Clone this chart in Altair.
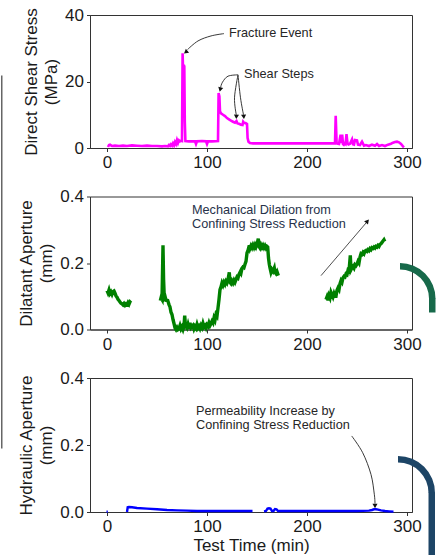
import altair as alt
import pandas as pd

# ------------------------------------------------------------------ data
# Direct shear stress (MPa) vs test time (min)
shear_time = [1, 2, 3, 4, 5, 8, 12, 16, 20, 25, 30, 35, 40, 45, 50, 55, 58, 61, 62, 63,
              64, 65, 66, 67, 68, 69, 70, 71, 72, 73, 74, 75, 75.6, 76.3, 76.8, 77.3, 77.8, 78.4, 82, 88,
              89, 90, 95, 99, 100, 101, 105, 111, 111.6, 112.4, 113, 114, 116, 118, 120, 122, 124, 126, 128, 129.5,
              130.5, 132, 134, 135.5, 136.2, 137, 138.5, 140, 140.6, 141.5, 143, 146, 160, 180, 200, 215, 228, 228.7, 229.6, 230.3,
              232, 233.6, 234.4, 235.2, 236, 236.8, 237.6, 238.5, 239.5, 240.5, 241.5, 243, 245, 246, 247, 248, 250, 251, 253, 255,
              257, 259, 262, 265, 268, 270, 272, 275, 278, 281, 284, 286, 288, 290, 292, 294, 296, 297]
shear_mpa = [0.3, 0.9, 1.0, 0.8, 0.6, 0.7, 0.6, 0.7, 0.6, 0.8, 0.7, 0.6, 0.7, 0.6, 0.6, 0.5, 0.6, 0.5, 0.9, 0.6,
             1.1, 0.7, 1.4, 0.8, 1.8, 1.2, 2.4, 1.5, 2.3, 2.0, 2.2, 2.1, 28.5, 21.0, 25.0, 24.5, 8.0, 2.1, 2.0, 2.0,
             1.2, 2.0, 2.1, 2.0, 1.2, 2.0, 2.0, 2.1, 16.5, 15.5, 11.0, 10.4, 10.0, 9.6, 9.0, 8.6, 8.2, 7.9, 7.6, 8.1,
             7.4, 7.3, 7.0, 6.9, 7.9, 7.6, 7.5, 7.2, 3.0, 1.9, 1.5, 1.4, 1.4, 1.4, 1.4, 1.4, 1.4, 9.7, 1.6, 1.3,
             1.2, 4.0, 1.5, 4.0, 1.2, 1.0, 1.4, 1.2, 4.2, 1.4, 1.1, 1.3, 2.6, 1.1, 1.0, 2.4, 2.3, 1.0, 0.9, 1.9,
             0.7, 0.9, 0.6, 1.0, 0.7, 1.2, 0.6, 0.9, 0.6, 1.0, 1.3, 1.6, 1.8, 1.9, 1.7, 1.2, 0.5, 0.2]

# Dilatant aperture (mm); the record has gaps (three segments)
dil_time = [0, 1, 2, 3, 4, 5, 6, 7, 8, 9, 10, 11, 12, 13, 14, 15, 16, 17, 18, 19, 20, 21, 22, 23, 24,
            53.3, 54, 55, 56, 56.6, 57.3, 58, 59, 60.7, 62, 63, 64, 65, 66, 67, 68, 69, 70, 71, 72, 73, 74, 75, 76, 77,
            77.7, 78.5, 80, 81, 82, 83, 84, 85, 86, 87, 88, 89, 90, 91, 92, 93, 94, 95, 96, 97, 98, 99, 100, 101, 102,
            103, 104, 105, 106, 107, 108, 109, 110, 111, 112, 113, 114, 115, 116, 117, 118, 119, 120, 121, 122.3, 123, 124, 125, 126, 127,
            128, 129, 130, 131, 132, 133.3, 134, 135, 136, 137, 138, 139, 140, 141, 142.3, 143, 144, 145, 146, 147, 148, 149, 150, 151.3,
            152, 153, 154, 155, 156, 157, 158, 159, 160, 160.7, 161.5, 162.3, 163, 164, 165, 166, 167.3, 168, 169, 170, 171.3,
            219, 220, 221, 222, 223, 224, 225, 226, 227, 228, 229, 230, 231, 232, 233, 234, 235, 236, 237, 238, 239, 240, 241, 242, 243.3,
            244, 245, 246, 247, 248, 249, 250, 251, 252, 253, 254, 255, 256, 257, 258, 259, 260, 261, 262, 263, 264, 265, 266, 267, 268,
            269, 270, 271, 272, 273, 274, 275, 276, 277, 277.8]
dil_mm = [0.117, 0.110, 0.119, 0.108, 0.113, 0.106, 0.114, 0.116, 0.109, 0.101, 0.097, 0.091, 0.087, 0.083, 0.079, 0.077, 0.074, 0.078, 0.073, 0.077, 0.075, 0.081, 0.076, 0.083, 0.080,
          0.087, 0.095, 0.090, 0.253, 0.150, 0.096, 0.100, 0.088, 0.087, 0.075, 0.068, 0.052, 0.045, 0.030, 0.018, 0.005, 0.000, 0.006, 0.000, 0.003, 0.012, 0.002, 0.008, 0.000, 0.010,
          0.042, 0.010, 0.004, 0.015, 0.003, 0.020, 0.006, 0.010, 0.013, 0.002, 0.009, 0.004, 0.015, 0.005, 0.010, 0.003, 0.012, 0.006, 0.018, 0.008, 0.012, 0.005, 0.014, 0.010, 0.020,
          0.012, 0.018, 0.025, 0.020, 0.035, 0.028, 0.045, 0.040, 0.065, 0.090, 0.120, 0.128, 0.140, 0.133, 0.142, 0.136, 0.145, 0.140, 0.150, 0.172, 0.142, 0.138, 0.146, 0.140, 0.148,
          0.142, 0.150, 0.158, 0.155, 0.166, 0.174, 0.170, 0.184, 0.188, 0.186, 0.196, 0.205, 0.230, 0.238, 0.253, 0.244, 0.252, 0.246, 0.254, 0.247, 0.255, 0.248, 0.256, 0.273,
          0.250, 0.245, 0.254, 0.247, 0.253, 0.246, 0.252, 0.245, 0.250, 0.248, 0.215, 0.196, 0.185, 0.172, 0.180, 0.175, 0.185, 0.172, 0.168, 0.174, 0.162,
          0.090, 0.098, 0.088, 0.102, 0.095, 0.112, 0.105, 0.098, 0.108, 0.100, 0.100, 0.118, 0.125, 0.120, 0.138, 0.147, 0.142, 0.155, 0.160, 0.158, 0.167, 0.165, 0.178, 0.175, 0.223,
          0.180, 0.186, 0.190, 0.185, 0.195, 0.192, 0.197, 0.205, 0.200, 0.218, 0.228, 0.226, 0.232, 0.228, 0.236, 0.238, 0.235, 0.240, 0.237, 0.243, 0.240, 0.246, 0.244, 0.248, 0.245,
          0.250, 0.248, 0.253, 0.250, 0.256, 0.258, 0.262, 0.266, 0.270, 0.265]
dil_gap_starts = [53.3, 219]          # times where a new recorded segment begins

# Hydraulic aperture (mm)
hyd_time = [-0.5, 0.8,
            20, 20.7, 22, 25, 30, 40, 50, 60, 70, 80, 90, 100, 110, 120, 130, 140, 145.5,
            157, 159, 160.5, 162, 163.5, 165, 166.5, 168, 169.5, 171, 175, 190, 210, 230, 250, 262, 265, 267, 269, 271, 274, 278, 282, 286.5]
hyd_mm = [0.001, 0.001,
          0.000, 0.014, 0.015, 0.014, 0.012, 0.010, 0.008, 0.006, 0.005, 0.004, 0.003, 0.003, 0.003, 0.003, 0.003, 0.003, 0.003,
          0.002, 0.003, 0.010, 0.011, 0.010, 0.003, 0.003, 0.009, 0.008, 0.003, 0.003, 0.003, 0.003, 0.003, 0.003, 0.004, 0.006, 0.008, 0.008, 0.007, 0.005, 0.003, 0.002, 0.001]
hyd_gap_starts = [20, 157]

# annotations
top_note_text = ["Fracture Event", "Shear Steps"]
top_note_t = [122, 137]
top_note_v = [34.6, 22.3]
top_arrow_id = [0, 0, 0, 0, 1, 1, 1, 1, 2, 2, 2, 3, 3, 3]
top_arrow_i = [0, 1, 2, 3, 0, 1, 2, 3, 0, 1, 2, 0, 1, 2]
top_arrow_t = [117, 104, 91, 80.5, 131, 121, 115.5, 113.6, 131, 127.5, 129.3, 131, 133.5, 136.5]
top_arrow_v = [34.4, 33.7, 32.2, 29.6, 22.0, 21.6, 19.8, 18.2, 22.0, 15.1, 10.0, 22.0, 15.1, 10.0]
top_head_t = [79.3, 113.4, 129.4, 136.7]
top_head_v = [29.0, 17.8, 9.6, 9.6]
top_head_ang = [231, 194, 183, 175]

mid_note_text = ["Mechanical Dilation from", "Confining Stress Reduction"]
mid_note_t = [85, 85]
mid_note_v = [0.359, 0.317]
mid_arrow_t = [214, 259.5]
mid_arrow_v = [0.162, 0.322]
mid_head_t = [260]
mid_head_v = [0.324]
mid_head_ang = [40]

bot_note_text = ["Permeability Increase by", "Confining Stress Reduction"]
bot_note_t = [89, 89]
bot_note_v = [0.301, 0.260]
bot_arrow_i = [0, 1, 2, 3, 4]
bot_arrow_t = [244.7, 255.7, 264, 267.3, 268]
bot_arrow_v = [0.227, 0.177, 0.112, 0.053, 0.025]
bot_head_t = [268]
bot_head_v = [0.020]
bot_head_ang = [180]


def segment_ids(times, starts):
    return [sum(1 for s in starts if t >= s) for t in times]


# ------------------------------------------------------------------ helpers
FONT = "Liberation Sans"
X_DOMAIN = [-17, 305]
X_TICKS = [0, 100, 200, 300]
W = 322
TEXT_C = "#262626"


class Panel:
    """Shared x / y encodings (identical in every layer of one panel)."""

    def __init__(self, ydom, yticks, yfmt, ytitle, xtitle=None):
        self.xscale = alt.Scale(domain=X_DOMAIN, nice=False, zero=False)
        self.yscale = alt.Scale(domain=ydom, nice=False, zero=False)
        self.xaxis = alt.Axis(values=X_TICKS, format="d", title=xtitle, titlePadding=3)
        self.yaxis = alt.Axis(values=yticks, format=yfmt, title=ytitle)

    def x(self):
        return alt.X("t:Q", scale=self.xscale, axis=self.xaxis)

    def y(self):
        return alt.Y("v:Q", scale=self.yscale, axis=self.yaxis)

    def notes(self, labels, ts, vs, color=TEXT_C):
        df = pd.DataFrame({"label": labels, "t": ts, "v": vs})
        return alt.Chart(df).mark_text(align="left", baseline="middle", font=FONT,
                                       fontSize=12.7, color=color).encode(
            x=self.x(), y=self.y(), text="label:N")

    def heads(self, ts, vs, angs):
        df = pd.DataFrame({"t": ts, "v": vs, "ang": angs})
        return alt.Chart(df).mark_point(shape="triangle", filled=True, size=26,
                                        color="#111111", opacity=1).encode(
            x=self.x(), y=self.y(), angle=alt.Angle("ang:Q", scale=None))


one_row = pd.DataFrame({"k": [0]})

# ------------------------------------------------------------------ top panel
P1 = Panel([0, 40], [0, 20, 40], "d", ["Direct Shear Stress", "(MPa)"])
shear_df = pd.DataFrame({"t": shear_time, "v": shear_mpa})
top_line = alt.Chart(shear_df).mark_line(color="#ff00ff", strokeWidth=2.6).encode(
    x=P1.x(), y=P1.y())
top_arrows_df = pd.DataFrame({"id": top_arrow_id, "i": top_arrow_i, "t": top_arrow_t, "v": top_arrow_v})
top_arrows = alt.Chart(top_arrows_df).mark_line(color="#222222", strokeWidth=0.9,
                                                interpolate="cardinal").encode(
    x=P1.x(), y=P1.y(), detail="id:N", order="i:Q")
top = alt.layer(
    top_line, top_arrows,
    P1.heads(top_head_t, top_head_v, top_head_ang),
    P1.notes(top_note_text, top_note_t, top_note_v),
).properties(width=W, height=133)

# ------------------------------------------------------------------ middle panel
P2 = Panel([0, 0.4], [0, 0.2, 0.4], ".1f", ["Dilatant Aperture", "(mm)"])
dil_df = pd.DataFrame({"t": dil_time, "v": dil_mm,
                       "seg": segment_ids(dil_time, dil_gap_starts)})
mid_line = alt.Chart(dil_df).mark_line(color="#008000", strokeWidth=3.4).encode(
    x=P2.x(), y=P2.y(), detail="seg:N")
mid_arrow_df = pd.DataFrame({"t": mid_arrow_t, "v": mid_arrow_v})
mid_arrow = alt.Chart(mid_arrow_df).mark_line(color="#222222", strokeWidth=0.8).encode(
    x=P2.x(), y=P2.y())
left_edge = alt.Chart(one_row).mark_rule(color="#666666", strokeWidth=1.5).encode(
    x=alt.value(-88.25), y=alt.value(-121), y2=alt.value(252))
green_hook = alt.Chart(one_row).mark_arc(color="#17694a").encode(
    x=alt.value(310), y=alt.value(102), theta=alt.value(0), theta2=alt.value(1.5708),
    radius=alt.value(29), radius2=alt.value(35.5))
green_tail = alt.Chart(one_row).mark_rule(color="#17694a", strokeWidth=6.5).encode(
    x=alt.value(342.25), y=alt.value(101.5), y2=alt.value(116))
mid = alt.layer(
    mid_line, mid_arrow,
    P2.heads(mid_head_t, mid_head_v, mid_head_ang),
    P2.notes(mid_note_text, mid_note_t, mid_note_v, color="#27324a"),
    left_edge, green_hook, green_tail,
).properties(width=W, height=133)

# ------------------------------------------------------------------ bottom panel
P3 = Panel([0, 0.4], [0, 0.2, 0.4], ".1f", ["Hydraulic Aperture", "(mm)"], "Test Time (min)")
hyd_df = pd.DataFrame({"t": hyd_time, "v": hyd_mm,
                       "seg": segment_ids(hyd_time, hyd_gap_starts)})
bot_line = alt.Chart(hyd_df).mark_line(color="#0000ff", strokeWidth=2.4).encode(
    x=P3.x(), y=P3.y(), detail="seg:N")
bot_arrow_df = pd.DataFrame({"i": bot_arrow_i, "t": bot_arrow_t, "v": bot_arrow_v})
bot_arrow = alt.Chart(bot_arrow_df).mark_line(color="#222222", strokeWidth=0.9,
                                              interpolate="cardinal").encode(
    x=P3.x(), y=P3.y(), order="i:Q")
navy_hook = alt.Chart(one_row).mark_arc(color="#1d4566").encode(
    x=alt.value(308), y=alt.value(115), theta=alt.value(0), theta2=alt.value(1.5708),
    radius=alt.value(30.5), radius2=alt.value(37))
navy_tail = alt.Chart(one_row).mark_rule(color="#1d4566", strokeWidth=6.5).encode(
    x=alt.value(341.75), y=alt.value(114.5), y2=alt.value(177))
bot = alt.layer(
    bot_line, bot_arrow,
    P3.heads(bot_head_t, bot_head_v, bot_head_ang),
    P3.notes(bot_note_text, bot_note_t, bot_note_v),
    navy_hook, navy_tail,
).properties(width=W, height=134)

chart = alt.vconcat(top, mid, bot, spacing=48.5, bounds="flush").properties(
    padding={"left": 0, "top": 5, "right": 0, "bottom": 0}
).configure_view(
    stroke="#333333", strokeWidth=1
).configure_axis(
    grid=False, labelFont=FONT, titleFont=FONT, labelFontSize=17, titleFontSize=17,
    titleFontWeight="normal", labelColor="#1a1a1a", titleColor="#1a1a1a",
    domainColor="#333333", tickColor="#333333", tickSize=3.5, labelPadding=3,
    titlePadding=4, titleLineHeight=20
)

chart.save("out.html", embed_options={"renderer": "svg", "actions": False})
